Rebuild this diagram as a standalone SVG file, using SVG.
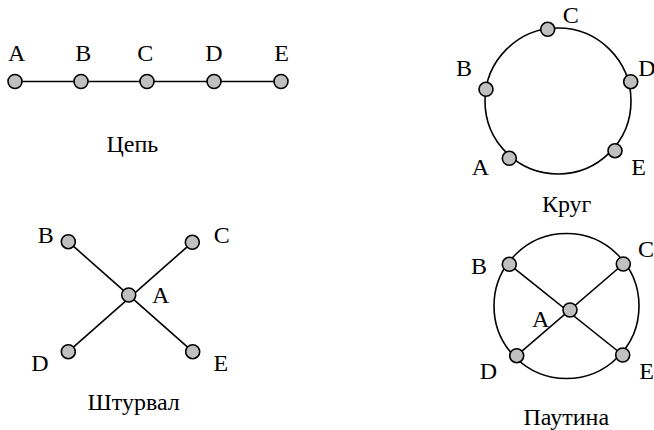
<svg xmlns="http://www.w3.org/2000/svg" width="654" height="430" viewBox="0 0 654 430">
<style>
.n{fill:#c0c0c0;stroke:#000;stroke-width:1.6}
.e{fill:none;stroke:#000;stroke-width:1.6}
text{font-family:'Liberation Serif',serif;font-size:24px;fill:#000;text-anchor:middle}
text.s{text-anchor:start}
</style>
<rect width="654" height="430" fill="#fff"/>
<g id="connectors">
<line class="e" x1="15" y1="81.5" x2="281" y2="81.5"/>
<circle class="e" cx="558" cy="101" r="73"/>
<line class="e" x1="68.3" y1="241.7" x2="192.7" y2="351.7"/>
<line class="e" x1="192.3" y1="242.3" x2="68.3" y2="351.7"/>
<circle class="e" cx="566.5" cy="306" r="72.5"/>
<line class="e" x1="509.3" y1="264.3" x2="622.7" y2="355"/>
<line class="e" x1="623.3" y1="264" x2="516.7" y2="355.7"/>
</g>
<g id="chain">
<g id="chain-A"><circle class="n" cx="15" cy="81.5" r="7"/><text x="16.7" y="61">A</text></g>
<g id="chain-B"><circle class="n" cx="81" cy="81.5" r="7"/><text x="83.3" y="61">B</text></g>
<g id="chain-C"><circle class="n" cx="147" cy="81.5" r="7"/><text x="145.3" y="61">C</text></g>
<g id="chain-D"><circle class="n" cx="214" cy="81.5" r="7"/><text x="213.8" y="61">D</text></g>
<g id="chain-E"><circle class="n" cx="281" cy="81.5" r="7"/><text x="281.7" y="61">E</text></g>
<text x="132.3" y="151.7">Цепь</text>
</g>
<g id="circle">
<g id="circle-A"><circle class="n" cx="509.3" cy="158.3" r="7"/><text x="480.3" y="175">A</text></g>
<g id="circle-B"><circle class="n" cx="486" cy="89.3" r="7"/><text x="464" y="76">B</text></g>
<g id="circle-C"><circle class="n" cx="547.7" cy="29.3" r="7"/><text x="570.7" y="22.7">C</text></g>
<g id="circle-D"><circle class="n" cx="630.7" cy="81.7" r="7"/><text class="s" x="638.3" y="76">D</text></g>
<g id="circle-E"><circle class="n" cx="615" cy="150.7" r="7"/><text x="638.7" y="175">E</text></g>
<text x="566.7" y="211.7">Круг</text>
</g>
<g id="wheel">
<g id="wheel-A"><circle class="n" cx="128.7" cy="295" r="7"/><text x="160.7" y="303.3">A</text></g>
<g id="wheel-B"><circle class="n" cx="68.3" cy="241.7" r="7"/><text x="45.7" y="243.3">B</text></g>
<g id="wheel-C"><circle class="n" cx="192.3" cy="242.3" r="7"/><text x="221.7" y="243.3">C</text></g>
<g id="wheel-D"><circle class="n" cx="68.3" cy="351.7" r="7"/><text x="40" y="371">D</text></g>
<g id="wheel-E"><circle class="n" cx="192.7" cy="351.7" r="7"/><text x="220.8" y="371">E</text></g>
<text x="133.7" y="410">Штурвал</text>
</g>
<g id="web">
<g id="web-A"><circle class="n" cx="570" cy="310" r="7"/><text x="540.7" y="327.3">A</text></g>
<g id="web-B"><circle class="n" cx="509.3" cy="264.3" r="7"/><text x="479" y="274">B</text></g>
<g id="web-C"><circle class="n" cx="623.3" cy="264" r="7"/><text class="s" x="638" y="256.7">C</text></g>
<g id="web-D"><circle class="n" cx="516.7" cy="355.7" r="7"/><text x="488.3" y="379.3">D</text></g>
<g id="web-E"><circle class="n" cx="622.7" cy="355" r="7"/><text class="s" x="639.3" y="379">E</text></g>
<text x="566.3" y="425">Паутина</text>
</g>
</svg>
